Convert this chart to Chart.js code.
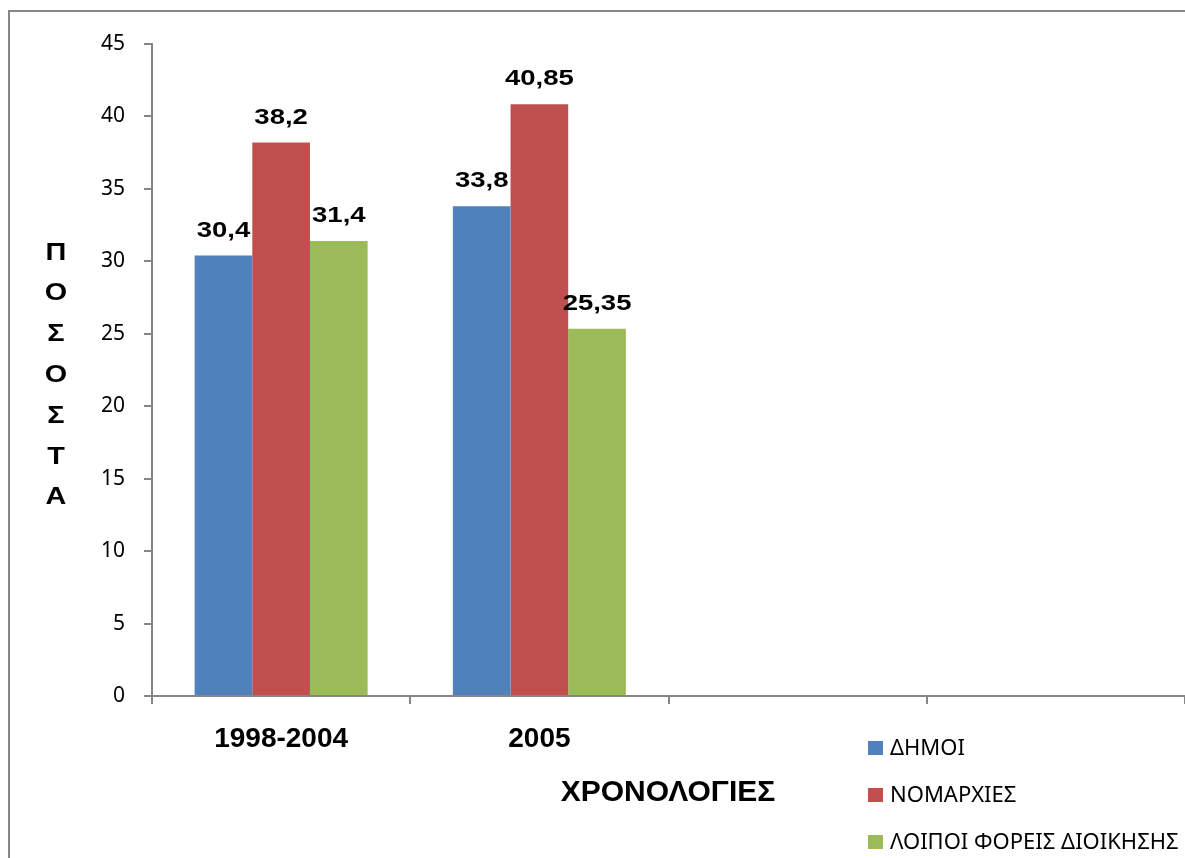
<!DOCTYPE html>
<html>
<head>
<meta charset="utf-8">
<script src="https://cdn.jsdelivr.net/npm/chart.js@4/dist/chart.umd.min.js"></script>
<style>
  body { margin: 0; background: #fff; }
  canvas { display: block; }
</style>
</head>
<body>
<canvas id="chart" width="1185" height="858"></canvas>
<script>
/* data */
const categories = ['1998-2004', '2005', '', ''];
const seriesNames = ['ΔΗΜΟΙ', 'ΝΟΜΑΡΧΙΕΣ', 'ΛΟΙΠΟΙ ΦΟΡΕΙΣ ΔΙΟΙΚΗΣΗΣ'];
const dimoi = [30.4, 33.8, null, null];
const nomarxies = [38.2, 40.85, null, null];
const loipoi = [31.4, 25.35, null, null];
const colors = ['#4F81BD', '#C0504D', '#9BBB59'];
const yTitle = 'ΠΟΣΟΣΤΑ';
const xTitle = 'ΧΡΟΝΟΛΟΓΙΕΣ';

const axisGray = '#868686';
const boldFont = '"Liberation Sans", Arial, sans-serif';
const fmt = v => String(v).replace('.', ',');

// text drawn a little wider than the font, as in the source picture
function wideText(ctx, text, x, y, sx) {
    ctx.save();
    ctx.translate(x, y);
    ctx.scale(sx, 1);
    ctx.fillText(text, 0, 0);
    ctx.restore();
}

/* ── frame, titles, legend, value labels ─────────────────────────── */
const decor = {
    id: 'decor',
    beforeDraw(chart) {
        const ctx = chart.ctx;
        ctx.save();
        ctx.fillStyle = '#fff';
        ctx.fillRect(0, 0, chart.width, chart.height);
        ctx.strokeStyle = axisGray;
        ctx.lineWidth = 2;
        ctx.strokeRect(9, 11, chart.width + 20, chart.height + 20);
        ctx.restore();
    },
    afterDatasetsDraw(chart) {
        const ctx = chart.ctx;
        ctx.save();
        ctx.fillStyle = '#000';
        ctx.textAlign = 'center';
        ctx.textBaseline = 'alphabetic';
        ctx.font = 'bold 22px ' + boldFont;
        chart.data.datasets.forEach((ds, i) => {
            chart.getDatasetMeta(i).data.forEach((bar, j) => {
                const v = ds.data[j];
                if (v == null) return;
                wideText(ctx, fmt(v), bar.x, bar.y - 19, 1.25);
            });
        });

        // stacked y title
        ctx.font = 'bold 24px ' + boldFont;
        ctx.textBaseline = 'middle';
        yTitle.split('').forEach((ch, k) => wideText(ctx, ch, 56, 253 + k * 40.8, 1.2));

        // x title
        ctx.font = 'bold 30px ' + boldFont;
        ctx.fillText(xTitle, 668, 793);

        // legend
        ctx.font = '22px "Noto Sans", sans-serif';
        ctx.textAlign = 'left';
        seriesNames.forEach((name, k) => {
            const y = 748 + k * 47;
            ctx.fillStyle = colors[k];
            ctx.fillRect(868, y - 7, 15, 14);
            ctx.fillStyle = '#000';
            ctx.fillText(name, 890, y + 1);
        });
        ctx.restore();
    }
};

new Chart(document.getElementById('chart').getContext('2d'), {
    type: 'bar',
    data: {
        labels: categories,
        datasets: [dimoi, nomarxies, loipoi].map((d, i) => ({
            label: seriesNames[i],
            data: d,
            backgroundColor: colors[i],
            borderWidth: 0,
            categoryPercentage: 0.67,
            barPercentage: 1.0
        }))
    },
    options: {
        responsive: false,
        animation: false,
        layout: { padding: { top: 44, left: 0, right: 0, bottom: 0 } },
        plugins: {
            legend: { display: false },
            tooltip: { enabled: false }
        },
        scales: {
            x: {
                offset: true,
                grid: { offset: true, drawOnChartArea: false, tickLength: 8, color: axisGray, lineWidth: 2 },
                border: { color: axisGray, width: 2 },
                ticks: {
                    color: '#000',
                    padding: 18,
                    maxRotation: 0,
                    font: { family: boldFont, size: 28, weight: 'bold' }
                },
                afterFit: s => { s.height = 162; }
            },
            y: {
                min: 0,
                max: 45,
                ticks: {
                    stepSize: 5,
                    color: '#000',
                    padding: 19,
                    font: { family: '"Noto Sans", sans-serif', size: 21 }
                },
                grid: { drawOnChartArea: false, tickLength: 8, color: axisGray, lineWidth: 2 },
                border: { color: axisGray, width: 2 },
                afterFit: s => { s.width = 152; }
            }
        }
    },
    plugins: [decor]
});
</script>
</body>
</html>
